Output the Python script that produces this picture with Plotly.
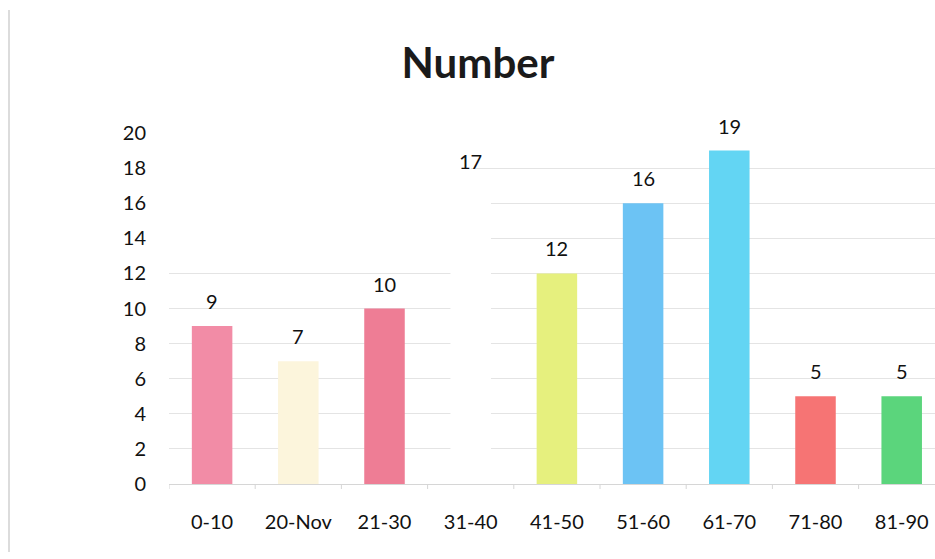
import plotly.graph_objects as go

# Age groups and counts
categories = ["0-10", "20-Nov", "21-30", "31-40", "41-50", "51-60", "61-70", "71-80", "81-90"]
counts = [9, 7, 10, 17, 12, 16, 19, 5, 5]
bar_colors = ["#F28CA6", "#FCF5DC", "#EE7D95", "#FFFFFF", "#E6F07E",
              "#6CC3F4", "#63D5F3", "#F67474", "#5BD57C"]
y_ticks = [0, 2, 4, 6, 8, 10, 12, 14, 16, 18, 20]

W, H = 935, 559
M_LEFT, M_RIGHT, M_TOP, M_BOTTOM = 169, 0, 133, 75
FONT = "Lato, 'Open Sans', sans-serif"

fig = go.Figure()
fig.add_trace(go.Bar(
    x=list(range(len(categories))),
    y=counts,
    width=0.47,
    marker=dict(color=bar_colors, line=dict(width=0)),
    hoverinfo="skip",
))

# value labels above each bar
for i, v in enumerate(counts):
    fig.add_annotation(
        x=i, y=v, text=str(v), showarrow=False,
        yanchor="bottom", yshift=11,
        font=dict(family=FONT, size=20, color="#111"),
    )

# blank patch over the upper-left gridlines
fig.add_shape(type="rect", xref="x", yref="y", x0=-0.6, x1=3.0, y0=13, y1=20.6,
              fillcolor="white", line=dict(width=0), layer="between")

# thin frame line on the left edge
plot_w = W - M_LEFT - M_RIGHT
plot_h = H - M_TOP - M_BOTTOM
fig.add_shape(type="line", xref="paper", yref="paper",
              x0=(9 - M_LEFT) / plot_w, x1=(9 - M_LEFT) / plot_w,
              y0=(H - M_BOTTOM - 10) / plot_h, y1=(H - M_BOTTOM - 552) / plot_h,
              line=dict(color="#dcdcdc", width=2), layer="above")

fig.update_layout(
    width=W, height=H,
    margin=dict(l=M_LEFT, r=M_RIGHT, t=M_TOP, b=M_BOTTOM),
    paper_bgcolor="white", plot_bgcolor="white",
    showlegend=False,
    bargap=0.53,
    title=dict(text="<b>Number</b>", x=(478 / W), xanchor="center",
               y=1 - 63 / H, yanchor="middle", yref="container",
               font=dict(family=FONT, size=42, color="#1a1a1a")),
    font=dict(family=FONT, size=20, color="#111"),
)

fig.update_xaxes(
    tickmode="array", tickvals=list(range(len(categories))), ticktext=categories,
    range=[-0.5, -0.5 + plot_w / 86.2],
    showgrid=False, zeroline=False,
    showline=True, linecolor="#d6d6d6", linewidth=1,
    ticks="", tickfont=dict(family=FONT, size=20, color="#111"),
    ticklabelstandoff=20,
)
# boundary tick marks between categories
for b in range(len(categories) + 1):
    fig.add_shape(type="line", xref="x", yref="paper", x0=b - 0.5, x1=b - 0.5,
                  y0=0, y1=-5 / plot_h, line=dict(color="#d6d6d6", width=1))

fig.update_yaxes(
    range=[0, 20], tickmode="array", tickvals=y_ticks,
    ticktext=[str(t) for t in y_ticks],
    showgrid=True, gridcolor="#e4e4e4", gridwidth=1,
    zeroline=False, showline=False,
    tickfont=dict(family=FONT, size=20, color="#111"),
    ticklabelstandoff=22,
)

fig.write_html("out.html")
